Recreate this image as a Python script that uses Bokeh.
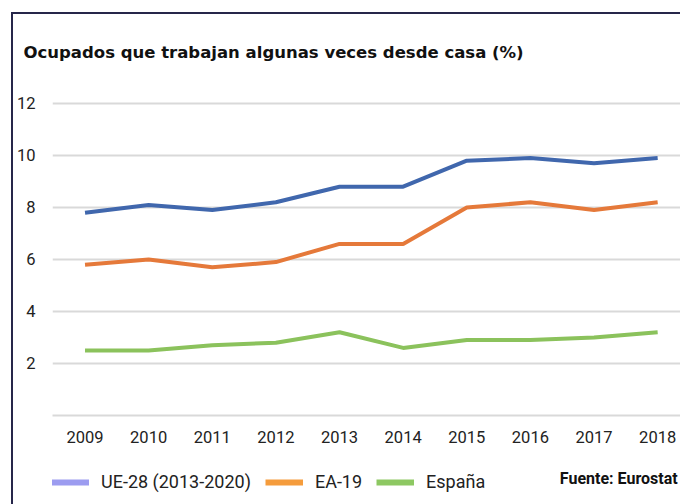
from bokeh.plotting import figure
from bokeh.models import (ColumnDataSource, Legend, LegendItem, Label, Range1d,
                          FixedTicker, Title, Div, Spacer)
from bokeh.layouts import column, row
from bokeh.embed import file_html
from bokeh.resources import INLINE

years = [2009, 2010, 2011, 2012, 2013, 2014, 2015, 2016, 2017, 2018]
ue28 = [7.8, 8.1, 7.9, 8.2, 8.8, 8.8, 9.8, 9.9, 9.7, 9.9]
ea19 = [5.8, 6.0, 5.7, 5.9, 6.6, 6.6, 8.0, 8.2, 7.9, 8.2]
espana = [2.5, 2.5, 2.7, 2.8, 3.2, 2.6, 2.9, 2.9, 3.0, 3.2]
y_ticks = [0, 2, 4, 6, 8, 10, 12]
series_names = ["UE-28 (2013-2020)", "EA-19", "España"]
title_text = "Ocupados que trabajan algunas veces desde casa (%)"
source_text = "Fuente: Eurostat"

line_colors = ["#4067ad", "#e5793a", "#8bc25c"]
swatch_colors = ["#9c9cf0", "#f59c3c", "#8dc862"]
BORDER = "#26264a"

src = ColumnDataSource(dict(year=years, ue28=ue28, ea19=ea19, esp=espana))
cols = ["ue28", "ea19", "esp"]

CW = 667
p = figure(width=CW, height=448, output_backend="svg", toolbar_location=None,
           x_range=Range1d(2008.489, 2018.359), y_range=Range1d(0, 12.692),
           min_border_left=39, min_border_right=0, min_border_top=71, min_border_bottom=47)
p.outline_line_color = None
p.background_fill_color = "white"
p.border_fill_color = "white"

p.xgrid.grid_line_color = None
p.ygrid.grid_line_color = "#d9d9d9"
p.ygrid.grid_line_width = 2
p.yaxis.ticker = FixedTicker(ticks=y_ticks)
p.yaxis.major_label_overrides = {0: ""}
p.xaxis.ticker = FixedTicker(ticks=years)

for ax in (p.xaxis, p.yaxis):
    ax.major_tick_line_color = None
    ax.minor_tick_line_color = None
    ax.major_label_text_font = "Roboto"
    ax.major_label_text_font_size = "16.5px"
    ax.major_label_text_color = "#222222"
p.yaxis.axis_line_color = None
p.xaxis.axis_line_color = "#d9d9d9"
p.xaxis.axis_line_width = 2
p.yaxis.major_label_standoff = 11
p.xaxis.major_label_standoff = 9

for col, c in zip(cols, line_colors):
    p.line("year", col, source=src, line_color=c, line_width=4)

p.title = Title(text=title_text, text_font="DejaVu Sans", text_font_size="16.5px",
                text_font_style="bold", text_color="#111111", align="left",
                offset=-29, standoff=48)

# legend row (its own small figure so the legend is not clipped by the chart frame)
lf = figure(width=CW, height=42, output_backend="svg", toolbar_location=None,
            x_range=Range1d(0, CW), y_range=Range1d(0, 42),
            min_border=0, min_border_left=0, min_border_right=0,
            min_border_top=0, min_border_bottom=0)
lf.axis.visible = False
lf.grid.visible = False
lf.outline_line_color = None
lf.background_fill_color = "white"
lf.border_fill_color = "white"

items = []
for name, col, c in zip(series_names, cols, swatch_colors):
    r = lf.line("year", col, source=src, line_color=c, line_width=6,
                line_cap="butt", visible=False)
    items.append(LegendItem(label=name, renderers=[r]))

legend = Legend(items=items, orientation="horizontal", location=(-1, 12),
                glyph_width=38, glyph_height=20, label_standoff=12, spacing=14,
                label_text_font="Roboto", label_text_font_size="18px",
                label_text_color="#222222", border_line_color=None,
                background_fill_alpha=0, inactive_fill_alpha=0,
                padding=0, margin=0)
lf.add_layout(legend, "center")

lf.add_layout(Label(x=664, y=26.5, text=source_text, text_align="right",
                    text_baseline="middle", text_font="Roboto", text_font_size="16px",
                    text_font_style="bold", text_color="#111111"))

top_border = row(Spacer(width=11, height=2, margin=0),
                 Div(text="", width=669, height=2, margin=0,
                     styles={"background-color": BORDER}))
body = row(Spacer(width=11, height=490, margin=0),
           Div(text="", width=2, height=490, margin=0,
               styles={"background-color": BORDER}),
           column(p, lf))
layout = column(Spacer(width=680, height=12, margin=0), top_border, body)

open("out.html", "w").write(file_html(layout, INLINE))
